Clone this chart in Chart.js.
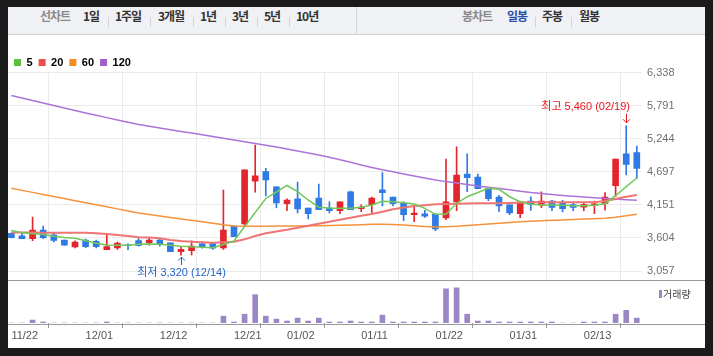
<!DOCTYPE html>
<html><head><meta charset="utf-8">
<script src="https://cdn.jsdelivr.net/npm/chart.js"></script>
<style>
html,body{margin:0;padding:0;width:713px;height:356px;overflow:hidden;background:#1b1b1b;}
#panel{position:absolute;left:8px;top:7px;width:697px;height:341px;background:#fff;}
#bar{position:absolute;left:8px;top:7px;width:697px;height:27px;background:#f0f1f5;border-bottom:1px solid #cfd0d3;}
#bar span{position:absolute;top:0;line-height:27px;font:bold 12px 'Noto Sans CJK KR',sans-serif;letter-spacing:-1px;color:#333;white-space:nowrap;}
#bar span.g{color:#8a8a8a;}
#bar span.on{color:#2a50a8;}
#bar i{position:absolute;top:10px;width:1px;height:10px;background:#d2d3d6;}
#bar b{position:absolute;top:0;width:1px;height:27px;background:#d3d4d8;}
.box{position:absolute;left:8px;width:697px;}
.box canvas{display:block;}
.hl{position:absolute;left:8px;width:697px;height:1px;background:#9a9a9a;}
</style>
</head><body>
<div id="panel"></div>
<div id="bar">
  <span class="g" style="left:32px">선차트</span>
  <span style="left:75px">1일</span><i style="left:100px"></i>
  <span style="left:107px">1주일</span><i style="left:142px"></i>
  <span style="left:150px">3개월</span><i style="left:185px"></i>
  <span style="left:192px">1년</span><i style="left:217px"></i>
  <span style="left:224px">3년</span><i style="left:249px"></i>
  <span style="left:256px">5년</span><i style="left:281px"></i>
  <span style="left:288px">10년</span>
  <b style="left:348px"></b>
  <span class="g" style="left:454px">봉차트</span>
  <span class="on" style="left:499px">일봉</span><i style="left:527px"></i>
  <span style="left:534px">주봉</span><i style="left:563px"></i>
  <span style="left:571px">월봉</span>
</div>
<div class="box" style="top:35px;height:246px"><canvas id="c1" width="697" height="246"></canvas></div>
<div class="box" style="top:281px;height:67px"><canvas id="c2" width="697" height="67"></canvas></div>
<div class="hl" style="top:280px"></div>
<div class="hl" style="top:324px"></div>
<script>
// ---- data ----
const dates = ['11/22','11/23','11/24','11/27','11/28','11/29','11/30','12/01','12/04','12/05',
  '12/06','12/07','12/08','12/11','12/12','12/13','12/14','12/15','12/18','12/19',
  '12/20','12/21','12/22','12/26','12/27','12/28','01/02','01/03','01/04','01/05',
  '01/08','01/09','01/10','01/11','01/12','01/15','01/16','01/17','01/18','01/19',
  '01/22','01/23','01/24','01/25','01/26','01/29','01/30','01/31','02/01','02/02',
  '02/05','02/06','02/07','02/08','02/13','02/14','02/15','02/16','02/19','02/20'];
const opens = [3680,3640,3590,3735,3655,3570,3455,3570,3550,3410,
  3440,3485,3560,3525,3570,3525,3375,3395,3505,3510,
  3440,3800,3835,4545,4700,4450,4170,4250,4100,4265,
  4100,4055,4365,4090,4155,4400,4280,4180,3990,4005,
  4000,3935,4200,4660,4610,4425,4280,4150,4005,4215,
  4150,4215,4185,4155,4115,4145,4175,4470,4995,5015];
const highs = [3685,3680,3950,3800,3680,3570,3555,3585,3570,3670,
  3535,3505,3600,3615,3580,3525,3460,3555,3535,3525,
  4395,3800,4730,5140,4755,4450,4250,4530,4100,4495,
  4200,4200,4380,4150,4280,4685,4280,4200,4145,4060,
  4000,4910,5110,4995,4660,4425,4310,4150,4200,4285,
  4365,4225,4225,4195,4195,4215,4355,4910,5460,5125];
const lows = [3605,3590,3560,3590,3540,3485,3440,3445,3440,3410,
  3415,3410,3470,3485,3470,3375,3320,3325,3435,3415,
  3415,3625,3820,4360,4300,4105,4055,4020,3920,4070,
  4020,4005,4070,4040,4020,4135,4135,3890,3875,3945,
  3725,3905,4055,4370,4420,4220,4040,3990,3940,4060,
  4105,4055,4035,4055,4055,4005,4065,4285,4645,4590];
const closes = [3610,3590,3735,3610,3565,3485,3535,3460,3460,3460,
  3520,3475,3480,3570,3505,3375,3415,3470,3460,3435,
  3735,3625,4730,4630,4565,4185,4230,4085,4005,4070,
  4055,4200,4070,4115,4265,4355,4170,3990,4015,3965,
  3755,4200,4645,4600,4420,4255,4135,4020,4200,4155,
  4215,4110,4090,4110,4155,4170,4280,4910,4820,4755];
const ma5 = [3727,3689,3674,3661,3631,3611,3598,3557,3515,3487,
  3482,3482,3500,3504,3500,3482,3467,3459,3449,3441,
  3495,3553,3793,4025,4257,4364,4472,4369,4232,4111,
  4099,4094,4094,4111,4149,4210,4204,4187,4166,4094,
  3995,3995,4177,4286,4356,4425,4409,4286,4204,4161,
  4149,4149,4144,4138,4138,4144,4171,4303,4452,4596];
const ma20 = [3694,3694,3694,3691,3691,3691,3691,3689,3681,3669,
  3653,3636,3615,3610,3598,3570,3553,3542,3532,3525,
  3532,3542,3581,3636,3681,3711,3739,3772,3807,3840,
  3873,3906,3939,3970,4000,4038,4078,4108,4133,4146,
  4161,4166,4171,4174,4177,4177,4177,4182,4190,4194,
  4194,4194,4194,4194,4194,4194,4215,4248,4286,4314];
const ma60 = [4425,4391,4358,4323,4290,4255,4220,4187,4152,4119,
  4085,4051,4017,3992,3967,3944,3919,3896,3871,3848,
  3823,3802,3797,3797,3798,3802,3802,3802,3805,3807,
  3810,3813,3818,3823,3830,3830,3826,3818,3805,3793,
  3785,3790,3798,3810,3823,3835,3846,3860,3871,3881,
  3889,3896,3903,3909,3916,3922,3931,3947,3970,3995];
const ma120 = [5961,5920,5878,5837,5795,5754,5713,5671,5633,5595,
  5556,5517,5481,5453,5423,5395,5367,5340,5312,5284,
  5254,5225,5196,5167,5138,5109,5076,5043,5010,4976,
  4938,4899,4857,4811,4770,4731,4698,4662,4629,4596,
  4563,4536,4513,4488,4463,4442,4422,4401,4377,4356,
  4339,4323,4308,4295,4281,4270,4258,4248,4238,4228];
const volumes = [0,0,60,20,0,0,0,0,0,20,
  0,0,0,0,0,0,0,0,0,0,
  140,20,180,580,140,80,40,100,40,100,
  20,20,40,20,20,160,20,20,20,20,
  20,700,720,180,40,40,20,20,20,20,
  20,20,0,0,20,20,20,180,260,100];
const yTicks = [3057,3604,4151,4697,5244,5791,6338];
const xTickLabels = ['11/22','12/01','12/12','12/21','01/02','01/11','01/22','01/31','02/13'];
const maNames = ['5','20','60','120'];
const volumeName = '거래량';

// ---- styles ----
const FONT = "'Liberation Sans','Noto Sans CJK KR',sans-serif";
Chart.defaults.font.family = FONT;
const UP = '#e3262d', DOWN = '#2f7ae5';
const maLine = ['#72c85a','#ef7474','#f5923a','#ac74d9'];
const maBox = ['#5cbf40','#ef4c4c','#f68b1f','#a060cc'];
const VOLC = '#9b87c6';
const X_MIN = -0.32, X_MAX = 59.49;

const idx = dates.map((d,i)=>i);
const xTickIdx = xTickLabels.map(l=>dates.indexOf(l));
const colorAt = i => closes[i] >= opens[i] ? UP : DOWN;
const fmt = v => v.toLocaleString('en-US');

const annot = {
  id:'annot',
  afterDatasetsDraw(chart){
    const ctx = chart.ctx, xs = chart.scales.x, ys = chart.scales.y;
    const hi = highs.indexOf(Math.max(...highs));
    const lo = lows.indexOf(Math.min(...lows));
    ctx.save();
    ctx.lineWidth = 1;
    ctx.font = "11px " + FONT;
    ctx.textBaseline = 'middle';
    // high
    let x = Math.round(xs.getPixelForValue(hi)) + 0.5, y = ys.getPixelForValue(highs[hi]);
    ctx.strokeStyle = ctx.fillStyle = '#f0141e';
    ctx.beginPath(); ctx.moveTo(x, y-12); ctx.lineTo(x, y-3); ctx.stroke();
    ctx.beginPath(); ctx.moveTo(x-3.5, y-6.5); ctx.lineTo(x, y-3); ctx.lineTo(x+3.5, y-6.5); ctx.stroke();
    ctx.textAlign = 'right';
    ctx.fillText('최고 ' + fmt(highs[hi]) + ' (' + dates[hi] + ')', x + 3.5, y - 18.5);
    // low
    x = Math.round(xs.getPixelForValue(lo)) + 0.5; y = ys.getPixelForValue(lows[lo]);
    ctx.strokeStyle = ctx.fillStyle = '#1f62c9';
    ctx.beginPath(); ctx.moveTo(x, y+10); ctx.lineTo(x, y+2); ctx.stroke();
    ctx.beginPath(); ctx.moveTo(x-3.5, y+5.5); ctx.lineTo(x, y+2); ctx.lineTo(x+3.5, y+5.5); ctx.stroke();
    ctx.textAlign = 'center';
    ctx.fillText('최저 ' + fmt(lows[lo]) + ' (' + dates[lo] + ')', x, y + 18);
    ctx.restore();
  }
};

const maSets = [ma5, ma20, ma60, ma120];
const lineDatasets = maSets.map((arr,k)=>({
  type:'line', label:maNames[k], data: idx.map(i=>({x:i,y:arr[i]})),
  borderColor: maLine[k], backgroundColor: maBox[k], borderWidth: k===1 ? 2 : 1.5,
  pointRadius:0, tension:0, order: k+1
}));

new Chart(document.getElementById('c1'), {
  type:'bar',
  data:{ datasets:[
    {label:'wick', data: idx.map(i=>({x:i,y:[lows[i],highs[i]]})), backgroundColor: c=>colorAt(c.dataIndex),
     barThickness:1, grouped:false, order:8, borderWidth:0},
    {label:'body', data: idx.map(i=>({x:i,y:[opens[i],closes[i]]})), backgroundColor: c=>colorAt(c.dataIndex),
     barThickness:6, minBarLength:1, grouped:false, order:7, borderWidth:0},
    ...lineDatasets
  ]},
  options:{
    responsive:false, animation:false, events:[], devicePixelRatio:1,
    layout:{padding:{top:16,bottom:0.5,left:0,right:0}},
    plugins:{
      tooltip:{enabled:false},
      legend:{display:true, position:'top', align:'start', maxHeight:21.7,
        labels:{boxWidth:7, boxHeight:7, padding:6, color:'#888', font:{size:11, weight:'bold'},
          generateLabels: ()=> maNames.map((n,k)=>({text:n, fillStyle:maBox[k], strokeStyle:maBox[k], lineWidth:0, hidden:false, datasetIndex:k+2}))}}
    },
    scales:{
      x:{type:'linear', min:X_MIN, max:X_MAX, offset:false,
        afterBuildTicks: s=>{ s.ticks = xTickIdx.map(v=>({value:v})); },
        ticks:{display:false}, grid:{color:'#ebebeb', drawTicks:false}, border:{display:false}},
      y:{position:'right', min:2900, max:6338,
        afterBuildTicks: s=>{ s.ticks = yTicks.map(v=>({value:v})); },
        afterFit: s=>{ s.width = 63; s.paddingTop = 0; s.paddingBottom = 0; },
        ticks:{padding:5, color:'#707070', font:{size:11}, callback: v=>fmt(v)},
        grid:{color:'#ebebeb', drawTicks:false}, border:{display:false}}
    }
  },
  plugins:[annot]
});

const volLegend = {
  id:'volLegend',
  afterDraw(chart){
    const ctx = chart.ctx, a = chart.chartArea;
    ctx.save();
    ctx.fillStyle = VOLC;
    ctx.fillRect(a.right + 17, 9, 3, 8);
    ctx.fillStyle = '#444';
    ctx.font = "10px 'Noto Sans CJK KR',sans-serif";
    ctx.textBaseline = 'middle';
    ctx.textAlign = 'left';
    ctx.fillText(volumeName, a.right + 21, 13.5);
    ctx.restore();
  }
};

new Chart(document.getElementById('c2'), {
  type:'bar',
  data:{ datasets:[{label:volumeName, data: idx.map(i=>({x:i,y:volumes[i]})), backgroundColor:VOLC,
    barThickness:5, grouped:false, borderWidth:0}]},
  options:{
    responsive:false, animation:false, events:[], devicePixelRatio:1,
    layout:{padding:{top:0,bottom:4.8,left:0,right:63}},
    plugins:{legend:{display:false}, tooltip:{enabled:false}},
    scales:{
      x:{type:'linear', min:X_MIN, max:X_MAX, offset:false,
        afterBuildTicks: s=>{ s.ticks = xTickIdx.map(v=>({value:v})); },
        afterFit: s=>{ s.paddingLeft = 0; s.paddingRight = 0; },
        ticks:{align:'start', padding:1, color:'#555', font:{size:11}, maxRotation:0, autoSkip:false, callback: v=>dates[v]},
        grid:{drawOnChartArea:false, drawTicks:true, tickLength:5, color:'#999'}, border:{display:false}},
      y:{display:false, min:0, max:860}
    }
  },
  plugins:[volLegend]
});
</script>
</body></html>
